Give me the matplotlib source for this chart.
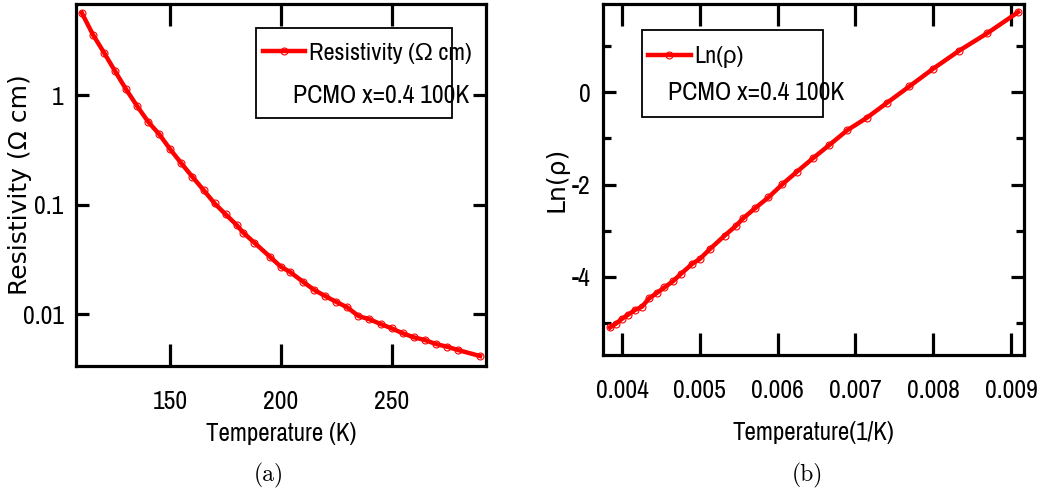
import numpy as np
import matplotlib
matplotlib.use('Agg')
import matplotlib.pyplot as plt
from matplotlib.patches import Rectangle
from matplotlib.ticker import FixedLocator, FixedFormatter, MultipleLocator

# temperature (K) and resistivity (Ohm cm)
temp = [110, 115, 120, 125, 130, 135, 140, 145, 150, 155, 160, 165, 170, 175,
        180, 183, 188, 195, 200, 204, 210, 215, 220, 225, 230, 235, 240, 245,
        250, 255, 260, 265, 270, 275, 280, 290]
rho = [5.64, 3.58, 2.45, 1.66, 1.13, 0.794, 0.571, 0.439, 0.319, 0.238, 0.179,
       0.136, 0.1025, 0.0814, 0.0650, 0.0553, 0.0448, 0.0334, 0.0270, 0.0243,
       0.0197, 0.0166, 0.0146, 0.0129, 0.0115, 0.00959, 0.00895, 0.00811,
       0.00740, 0.00667, 0.00613, 0.00579, 0.00532, 0.00503, 0.00469, 0.00413]
t_max_b = 260  # panel (b) only goes up to 260 K

plt.rcParams['axes.unicode_minus'] = False
narrow = ['Archivo Narrow', 'Liberation Sans', 'DejaVu Sans']
wide = ['DejaVu Sans']

temp = np.array(temp)
rho = np.array(rho)
sel = temp <= t_max_b
inv_t = 1.0 / temp[sel]
ln_rho = np.log(rho[sel])

fig = plt.figure(figsize=(10.46, 4.95), dpi=100)
ax1 = fig.add_axes([0.0727, 0.2606, 0.392, 0.731])
ax2 = fig.add_axes([0.5765, 0.2828, 0.4025, 0.709])

line_kw = dict(color='red', lw=3.2, marker='o', ms=5, mfc='none', mec='red', mew=0.8)


def style(ax):
    for s in ax.spines.values():
        s.set_linewidth(2.3)
    ax.tick_params(which='both', direction='in', top=True, right=True, width=2.3)
    ax.tick_params(axis='x', which='major', length=16, pad=17)
    ax.tick_params(axis='y', which='major', length=9.5, pad=9)
    ax.tick_params(axis='y', which='minor', length=6)
    ax.tick_params(axis='x', which='minor', length=0)
    for lab in ax.get_xticklabels() + ax.get_yticklabels():
        lab.set_family(narrow)
        lab.set_fontsize(18.5)


def legend_box(ax, box, handle_line, label, hx, hy, tx, ty):
    x0, y0, x1, y1 = box
    ax.add_patch(Rectangle((x0, y0), x1 - x0, y1 - y0, transform=ax.transAxes,
                           fill=False, lw=1.3, ec='black', zorder=5))
    leg = ax.legend([handle_line], [label], loc='center left', bbox_to_anchor=(hx, hy),
                    frameon=False, handlelength=1.75, handletextpad=0.15, borderpad=0,
                    borderaxespad=0, prop={'family': narrow, 'size': 17.5})
    ax.text(tx, ty, 'PCMO x=0.4 100K', transform=ax.transAxes, ha='left', va='center',
            family=narrow, fontsize=18.5)
    return leg


# (a) resistivity vs temperature
l1, = ax1.plot(temp, rho, **line_kw)
ax1.set_yscale('log')
ax1.set_xlim(107.4, 292.7)
ax1.set_ylim(0.00335, 6.78)
ax1.xaxis.set_major_locator(FixedLocator([150, 200, 250]))
ax1.yaxis.set_major_locator(FixedLocator([0.01, 0.1, 1]))
ax1.yaxis.set_major_formatter(FixedFormatter(['0.01', '0.1', '1']))
ax1.yaxis.set_minor_locator(FixedLocator([]))
style(ax1)
ax1.set_xlabel('Temperature (K)', family=narrow, fontsize=18, labelpad=7)
ax1.set_ylabel('Resistivity (Ω cm)', family=wide, fontsize=18)
ax1.yaxis.set_label_coords(-0.108, 0.5)
legend_box(ax1, (0.439, 0.685, 0.917, 0.934), l1, 'Resistivity (Ω cm)',
           0.455, 0.864, 0.530, 0.748)

# (b) ln(rho) vs 1/T
l2, = ax2.plot(inv_t, ln_rho, **line_kw)
ax2.set_xlim(0.003756, 0.009167)
ax2.set_ylim(-5.69, 1.905)
ax2.xaxis.set_major_locator(MultipleLocator(0.001))
ax2.yaxis.set_major_locator(MultipleLocator(2))
ax2.yaxis.set_minor_locator(MultipleLocator(1))
style(ax2)
ax2.set_xlabel('Temperature(1/K)', family=narrow, fontsize=18, labelpad=14)
ax2.set_ylabel('Ln(ρ)', family=wide, fontsize=18)
ax2.yaxis.set_label_coords(-0.083, 0.5)
legend_box(ax2, (0.093, 0.678, 0.523, 0.926), l2, 'Ln(ρ)',
           0.107, 0.849, 0.154, 0.749)

fig.text(0.257, 0.04, '(a)', ha='center', va='center', family='cmr10', fontsize=17)
fig.text(0.772, 0.04, '(b)', ha='center', va='center', family='cmr10', fontsize=17)

fig.savefig('out.png', dpi=100)
